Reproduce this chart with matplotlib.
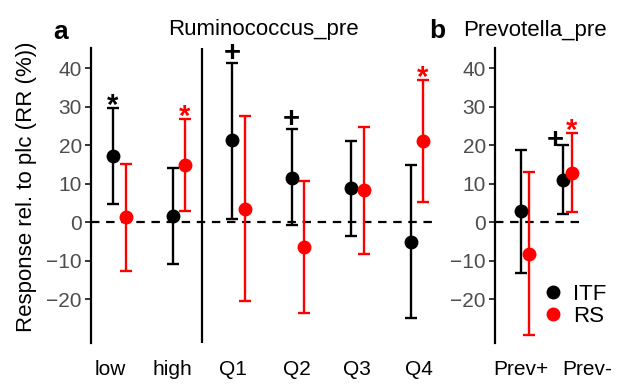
import matplotlib
matplotlib.use('Agg')
import matplotlib.pyplot as plt
from matplotlib.lines import Line2D
from matplotlib.transforms import blended_transform_factory
import numpy as np

plt.rcParams['font.family'] = ['Liberation Sans', 'DejaVu Sans']

# ---------------- data ----------------
cats_a = ['low', 'high', 'Q1', 'Q2', 'Q3', 'Q4']
itf_a = [17.2, 1.8, 21.3, 11.6, 9.0, -5.0]
itf_a_lo = [4.9, -10.7, 0.9, -0.7, -3.6, -24.8]
itf_a_hi = [29.8, 14.2, 41.5, 24.4, 21.2, 14.9]
rs_a = [1.3, 14.9, 3.5, -6.5, 8.3, 21.1]
rs_a_lo = [-12.6, 2.9, -20.5, -23.6, -8.1, 5.3]
rs_a_hi = [15.2, 26.9, 27.6, 10.7, 24.8, 37.0]
sig_itf_a = ['*', '', '+', '+', '', '']
sig_rs_a = ['', '*', '', '', '', '*']

cats_b = ['Prev+', 'Prev-']
itf_b = [3.0, 11.0]
itf_b_lo = [-13.1, 2.3]
itf_b_hi = [18.9, 20.0]
rs_b = [-8.1, 12.9]
rs_b_lo = [-29.3, 2.7]
rs_b_hi = [13.2, 23.2]
sig_itf_b = ['', '+']
sig_rs_b = ['', '*']

series_names = ['ITF', 'RS']
series_colors = ['black', '#FF0000']
yticks = [-20, -10, 0, 10, 20, 30, 40]

# ---------------- layout ----------------
W, H = 633, 392
fig = plt.figure(figsize=(W / 100, H / 100), dpi=100)


def fx(px):
    return px / W


def fy(py):
    return 1 - py / H


y_top, y_bot = 47.7, 343.3
ax_a = fig.add_axes([fx(91), fy(y_bot), fx(438) - fx(91), (y_bot - y_top) / H])
ax_b = fig.add_axes([fx(495), fy(y_bot), fx(585) - fx(495), (y_bot - y_top) / H])
ylim = (-31.4, 45.4)


def style(ax, xlim):
    ax.set_xlim(*xlim)
    ax.set_ylim(*ylim)
    ax.set_yticks(yticks)
    ax.set_yticklabels([str(t).replace('-', '\u2212') for t in yticks])
    ax.set_xticks([])
    for s in ['top', 'right', 'bottom']:
        ax.spines[s].set_visible(False)
    ax.spines['left'].set_linewidth(1.6)
    ax.tick_params(axis='y', length=4.5, width=1.1, color='black',
                   labelsize=15, labelcolor='#4D4D4D', pad=2)
    ax.axhline(0, color='black', lw=1.6, ls=(0, (3.8, 3.0)), zorder=1)
    ax.patch.set_visible(False)


def draw(ax, vals_list, dodge, sigs_list, sig_offsets):
    for (vals, lo, hi), color, d, sigs in zip(vals_list, series_colors, (-dodge, dodge), sigs_list):
        vals = np.array(vals); lo = np.array(lo); hi = np.array(hi)
        x = np.arange(len(vals)) + d
        ax.errorbar(x, vals, yerr=[vals - lo, hi - vals], fmt='o', color=color,
                    ms=9, elinewidth=1.7, capsize=4.3, capthick=1.7, zorder=3)
        for i, s in enumerate(sigs):
            if not s:
                continue
            if s == '*':
                dx, dy, fs = 0, -4.5, 21
            else:
                dx, dy, fs = 0, 1.2, 21
            ddx, ddy = sig_offsets.get((color, i), (0, 0))
            ax.annotate(s, xy=(x[i], hi[i]), xytext=(dx + ddx, dy + ddy), textcoords='offset points',
                        ha='center', va='baseline', fontsize=fs, color=color,
                        fontweight='bold', annotation_clip=False)


style(ax_a, (-0.475, 5.357))
style(ax_b, (-0.704, 1.414))
ax_a.axvline(1.39, color='black', lw=1.6, zorder=2)

draw(ax_a, [(itf_a, itf_a_lo, itf_a_hi), (rs_a, rs_a_lo, rs_a_hi)], 0.105,
     [sig_itf_a, sig_rs_a], {})
draw(ax_b, [(itf_b, itf_b_lo, itf_b_hi), (rs_b, rs_b_lo, rs_b_hi)], 0.1,
     [sig_itf_b, sig_rs_b], {('black', 1): (-5.8, -3.0)})

# category labels
lab_pos_a = [-0.155, 0.887, 1.912, 2.987, 3.996, 5.038]
lab_pos_b = [-0.09, 1.465]
for ax, cats, pos in [(ax_a, cats_a, lab_pos_a), (ax_b, cats_b, lab_pos_b)]:
    tr = blended_transform_factory(ax.transData, ax.transAxes)
    for c, p in zip(cats, pos):
        ax.text(p, -0.107, c, transform=tr, ha='center', va='baseline',
                fontsize=15, color='black', clip_on=False)

# titles / panel letters
fig.text(fx(263.5), fy(35), 'Ruminococcus_pre', ha='center', va='baseline', fontsize=16)
fig.text(fx(535), fy(36), 'Prevotella_pre', ha='center', va='baseline', fontsize=16)
fig.text(fx(53), fy(39.3), 'a', ha='left', va='baseline', fontsize=19, fontweight='bold')
fig.text(fx(429), fy(38.3), 'b', ha='left', va='baseline', fontsize=19, fontweight='bold')
fig.text(fx(27), fy(187), 'Response rel. to plc (RR (%))', rotation=90,
         ha='center', va='center', fontsize=16)

# legend
handles = [Line2D([], [], marker='o', ls='', color=c, ms=9) for c in series_colors]
fig.legend(handles, series_names, loc='center left', bbox_to_anchor=(fx(544), fy(305.5)),
           frameon=False, fontsize=16, handlelength=0.8, handletextpad=0.52,
           labelspacing=0.05, borderpad=0, borderaxespad=0)

fig.savefig('out.png', dpi=100)
